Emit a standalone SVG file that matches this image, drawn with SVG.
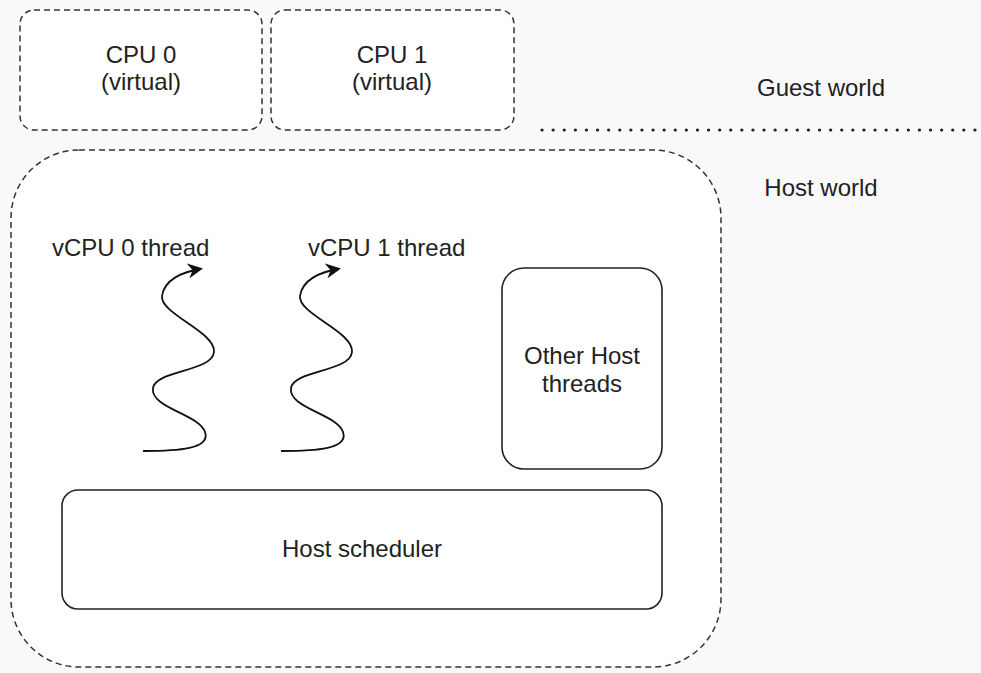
<svg xmlns="http://www.w3.org/2000/svg" width="981" height="673" viewBox="0 0 981 673">
<style>
.bg{fill:#f9f9f9}
.dash{fill:#fff;stroke:#333;stroke-width:1.5;stroke-dasharray:6 4}
.solid{fill:#fff;stroke:#222;stroke-width:1.6}
.t{font-family:"Liberation Sans",Arial,sans-serif;font-size:24px;fill:#222;text-anchor:middle}
.tl{font-family:"Liberation Sans",Arial,sans-serif;font-size:24px;fill:#222}
.wave{fill:none;stroke:#111;stroke-width:1.8}
</style>
<defs>
<marker id="arr" viewBox="0 0 10 10" refX="8" refY="5" markerWidth="15" markerHeight="15" orient="auto" markerUnits="userSpaceOnUse">
<path d="M0,0 L10,5 L0,10 L3,5 Z" fill="#111"/>
</marker>
</defs>
<rect class="bg" x="0" y="0" width="981" height="673"/>
<g id="cpu0">
<rect class="dash" x="20" y="10" width="242" height="120" rx="14"/>
<text class="t" x="141" y="63">CPU 0</text>
<text class="t" x="141" y="90">(virtual)</text>
</g>
<g id="cpu1">
<rect class="dash" x="271" y="10" width="243" height="120" rx="14"/>
<text class="t" x="392" y="63">CPU 1</text>
<text class="t" x="392" y="90">(virtual)</text>
</g>
<g id="guest-world">
<text class="t" x="821" y="96">Guest world</text>
</g>
<g id="divider">
<line x1="542" y1="130" x2="981" y2="130" stroke="#222" stroke-width="3.2" stroke-dasharray="0.1 11" stroke-linecap="round"/>
</g>
<g id="host-world-label">
<text class="t" x="821" y="196">Host world</text>
</g>
<g id="host">
<rect class="dash" x="11" y="150" width="710" height="517" rx="68"/>
</g>
<g id="vcpu0">
<text class="tl" x="52" y="256">vCPU 0 thread</text>
</g>
<g id="vcpu1">
<text class="tl" x="308" y="256">vCPU 1 thread</text>
</g>
<g id="other">
<rect class="solid" x="502" y="268" width="160" height="201" rx="22"/>
<text class="t" x="582" y="364">Other Host</text>
<text class="t" x="582" y="392">threads</text>
</g>
<g id="scheduler">
<rect class="solid" x="62" y="490" width="600" height="119" rx="16"/>
<text class="t" x="362" y="557">Host scheduler</text>
</g>
<g id="connectors">
<path class="wave" marker-end="url(#arr)" d="M143,451 C178,451 211,449 205,432 C199,414 150,408 153,388 C156,370 212,372 214,352 C216,332 160,314 162,296 C164,280 182,272 200,269"/>
<path class="wave" marker-end="url(#arr)" d="M281,451 C316,451 349,449 343,432 C337,414 288,408 291,388 C294,370 350,372 352,352 C354,332 298,314 300,296 C302,280 320,272 338,269"/>
</g>
</svg>
